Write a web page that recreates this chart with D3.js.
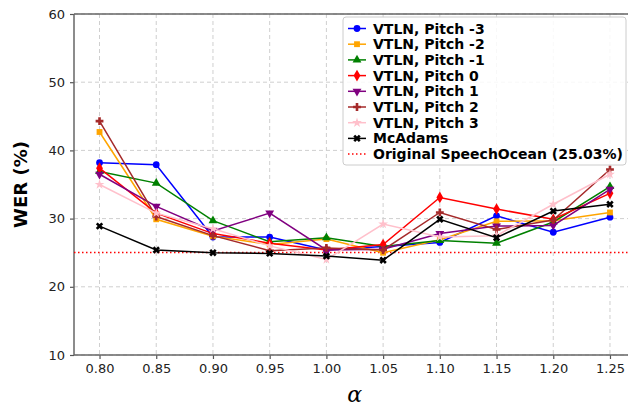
<!DOCTYPE html>
<html>
<head>
<meta charset="utf-8">
<script src="https://cdn.jsdelivr.net/npm/d3@7"></script>
<style>
  body { margin: 0; background: #fff; }
  svg { display: block; font-family: "DejaVu Sans", sans-serif; }
</style>
</head>
<body>
<svg id="chart"></svg>
<script>
// chart size and plot box (the right edge runs off the canvas like the original)
let outerWidth = 628;
let outerHeight = 408;
let plotLeft = 74, plotRight = 635.5, plotTop = 14, plotBottom = 355;

// data
const alphas = [0.80, 0.85, 0.90, 0.95, 1.00, 1.05, 1.10, 1.15, 1.20, 1.25];
const seriesNames = ["VTLN, Pitch -3", "VTLN, Pitch -2", "VTLN, Pitch -1", "VTLN, Pitch 0",
  "VTLN, Pitch 1", "VTLN, Pitch 2", "VTLN, Pitch 3", "McAdams"];
const pitchM3 = [38.2, 37.9, 27.3, 27.3, 25.4, 25.9, 26.5, 30.4, 28.0, 30.2];
const pitchM2 = [42.7, 29.9, 27.4, 26.2, 27.0, 25.0, 26.9, 29.6, 29.7, 30.9];
const pitchM1 = [36.9, 35.2, 29.7, 26.6, 27.2, 25.9, 26.8, 26.4, 29.5, 34.7];
const pitch0  = [37.4, 30.8, 27.8, 26.4, 25.4, 26.2, 33.1, 31.4, 29.9, 33.7];
const pitch1  = [36.5, 31.8, 28.2, 30.8, 25.4, 25.5, 27.8, 28.9, 29.0, 34.3];
const pitch2  = [44.3, 30.3, 27.5, 25.3, 25.7, 25.4, 30.9, 28.4, 29.8, 37.2];
const pitch3  = [35.0, 30.8, 28.5, 26.0, 24.0, 29.2, 27.3, 27.5, 32.1, 36.5];
const mcAdams = [28.9, 25.4, 25.0, 24.9, 24.5, 23.9, 29.9, 27.2, 31.1, 32.1];
const baselineLabel = "Original SpeechOcean (25.03%)";
const baselineWER = 25.03;
const yTicks = [10, 20, 30, 40, 50, 60];

const allSeries = [pitchM3, pitchM2, pitchM1, pitch0, pitch1, pitch2, pitch3, mcAdams];
const colors = ["blue", "orange", "green", "red", "purple", "brown", "pink", "black"];
const markers = [
  {type: d3.symbolCircle, size: 36, rot: 0},
  {type: d3.symbolSquare, size: 34, rot: 0},
  {type: d3.symbolTriangle, size: 34, rot: 0},
  {type: d3.symbolDiamond, size: 40, rot: 0},
  {type: d3.symbolTriangle, size: 34, rot: 180},
  {type: d3.symbolCross, size: 34, rot: 0},
  {type: d3.symbolStar, size: 30, rot: 0},
  {type: d3.symbolCross, size: 34, rot: 45}
];

const svg = d3.select('#chart')
  .attr('width', outerWidth)
  .attr('height', outerHeight);

const xScale = d3.scaleLinear()
  .domain([0.7775, 1.2725])
  .range([plotLeft, plotRight]);
const yScale = d3.scaleLinear()
  .domain([10, 60])
  .range([plotBottom, plotTop]);

// grid
const grid = svg.append('g');
grid.selectAll('.gx').data(alphas).enter().append('line')
  .attr('x1', d => xScale(d)).attr('x2', d => xScale(d))
  .attr('y1', plotTop).attr('y2', plotBottom)
  .style('stroke', '#cfcfcf').style('stroke-width', 1)
  .style('stroke-dasharray', '4,3');
grid.selectAll('.gy').data(yTicks).enter().append('line')
  .attr('x1', plotLeft).attr('x2', plotRight)
  .attr('y1', d => yScale(d)).attr('y2', d => yScale(d))
  .style('stroke', '#cfcfcf').style('stroke-width', 1)
  .style('stroke-dasharray', '4,3');

// axes
const xAxis = svg.append('g')
  .attr('transform', `translate(0,${plotBottom})`)
  .call(d3.axisBottom(xScale).tickValues(alphas).tickFormat(d3.format('.2f')).tickSize(4).tickPadding(5));
const yAxis = svg.append('g')
  .attr('transform', `translate(${plotLeft},0)`)
  .call(d3.axisLeft(yScale).tickValues(yTicks).tickSize(4).tickPadding(5));
[xAxis, yAxis].forEach(a => {
  a.select('.domain').remove();
  a.selectAll('line').style('stroke', '#555').style('stroke-width', 1.2);
  a.selectAll('text').style('font-size', '13px').style('fill', '#222')
    .style('font-family', '"DejaVu Sans", sans-serif');
});

// spines
const spine = svg.append('g').style('stroke', '#666').style('stroke-width', 1.5);
spine.append('line').attr('x1', plotLeft).attr('x2', plotLeft).attr('y1', plotTop).attr('y2', plotBottom);
spine.append('line').attr('x1', plotLeft).attr('x2', plotRight).attr('y1', plotBottom).attr('y2', plotBottom);
spine.append('line').attr('x1', plotLeft).attr('x2', plotRight).attr('y1', plotTop).attr('y2', plotTop);
spine.append('line').attr('x1', plotRight).attr('x2', plotRight).attr('y1', plotTop).attr('y2', plotBottom);

// baseline
svg.append('line')
  .attr('x1', plotLeft).attr('x2', plotRight)
  .attr('y1', yScale(baselineWER)).attr('y2', yScale(baselineWER))
  .style('stroke', 'red').style('stroke-width', 1.5)
  .style('stroke-dasharray', '1.5,2.5');

// series
const line = d3.line()
  .x((d, i) => xScale(alphas[i]))
  .y(d => yScale(d));
allSeries.forEach((vals, s) => {
  const g = svg.append('g');
  g.append('path').datum(vals)
    .attr('d', line)
    .style('fill', 'none')
    .style('stroke', colors[s])
    .style('stroke-width', 1.5);
  g.selectAll('path.pt').data(vals).enter().append('path')
    .attr('class', 'pt')
    .attr('d', d3.symbol().type(markers[s].type).size(markers[s].size))
    .attr('transform', (d, i) => `translate(${xScale(alphas[i])},${yScale(d)}) rotate(${markers[s].rot})`)
    .style('fill', colors[s]);
});

// legend
const lg = svg.append('g').attr('transform', 'translate(343,17)');
lg.append('rect')
  .attr('width', 283).attr('height', 148)
  .attr('rx', 3)
  .style('fill', 'rgba(255,255,255,0.85)')
  .style('stroke', '#ccc');
const rowH = 15.7;
seriesNames.forEach((name, s) => {
  const y = 11.5 + s * rowH;
  lg.append('line').attr('x1', 5).attr('x2', 23).attr('y1', y).attr('y2', y)
    .style('stroke', colors[s]).style('stroke-width', 1.5);
  lg.append('path')
    .attr('d', d3.symbol().type(markers[s].type).size(markers[s].size))
    .attr('transform', `translate(14,${y}) rotate(${markers[s].rot})`)
    .style('fill', colors[s]);
  lg.append('text').attr('x', 30).attr('y', y).attr('dy', '0.36em')
    .style('font-size', '14px').style('font-weight', 'bold').style('fill', '#000')
    .text(name);
});
{
  const y = 11.5 + seriesNames.length * rowH;
  lg.append('line').attr('x1', 5).attr('x2', 23).attr('y1', y).attr('y2', y)
    .style('stroke', 'red').style('stroke-width', 1.5).style('stroke-dasharray', '1.5,2.5');
  lg.append('text').attr('x', 30).attr('y', y).attr('dy', '0.36em')
    .style('font-size', '14px').style('font-weight', 'bold').style('fill', '#000')
    .text(baselineLabel);
}

// axis labels
svg.append('text')
  .attr('transform', `translate(27,${(plotTop + plotBottom) / 2}) rotate(-90)`)
  .attr('text-anchor', 'middle')
  .style('font-size', '18px').style('font-weight', 'bold')
  .text('WER (%)');
svg.append('text')
  .attr('x', xScale(1.025)).attr('y', 402)
  .attr('text-anchor', 'middle')
  .style('font-size', '22px').style('font-style', 'italic')
  .style('font-family', '"DejaVu Serif", serif')
  .text('α');
</script>
</body>
</html>
